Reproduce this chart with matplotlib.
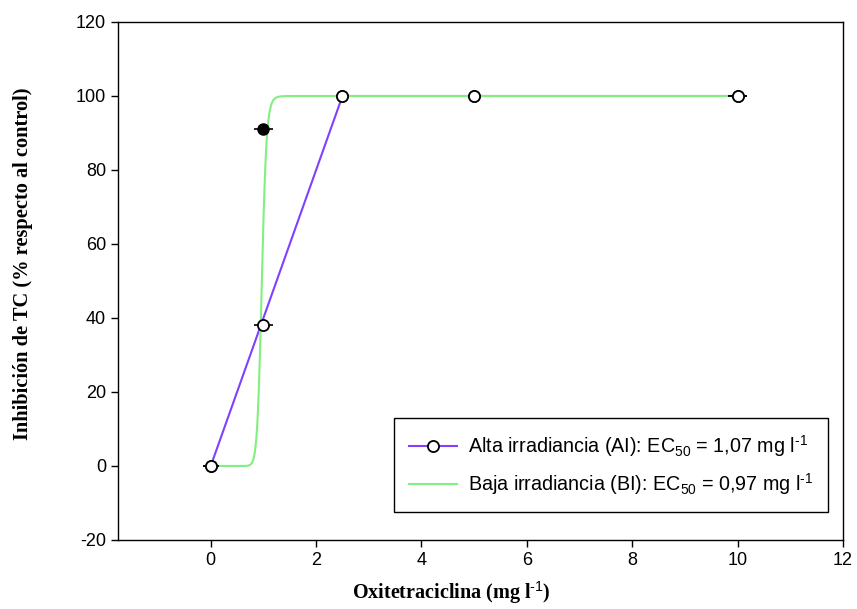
import numpy as np
import matplotlib
matplotlib.use("Agg")
import matplotlib.pyplot as plt
from matplotlib.lines import Line2D

plt.rcParams['mathtext.fontset'] = 'custom'
plt.rcParams['mathtext.rm'] = 'Liberation Sans'
plt.rcParams['mathtext.it'] = 'Liberation Sans:italic'
plt.rcParams['mathtext.bf'] = 'Liberation Serif:bold'
plt.rcParams['axes.unicode_minus'] = False

# Data
conc = [0, 1, 2.5, 5, 10]
alta = [0, 38, 100, 100, 100]
baja = [0, 91, 100, 100, 100]
x_err = [0.15, 0.18, 0.1, 0.1, 0.18]

# Fitted curves
alta_fit_x = [0, 2.5, 10]
alta_fit_y = [0, 100, 100]
baja_ec50 = 0.97
baja_hill = 22

xticks = [0, 2, 4, 6, 8, 10, 12]
yticks = [-20, 0, 20, 40, 60, 80, 100, 120]

purple = "#8040ff"
green = "#80f080"

fig = plt.figure(figsize=(8.57, 6.09), dpi=100)
ax = fig.add_axes([118/857, 1-540/609, (843-118)/857, (540-22)/609])

xs = np.linspace(0.001, 10, 2000)
baja_curve = 100/(1+(baja_ec50/xs)**baja_hill)

ax.plot(alta_fit_x, alta_fit_y, color=purple, lw=1.5, zorder=2)
ax.plot(xs, baja_curve, color=green, lw=1.5, zorder=3)

ax.errorbar(conc, baja, xerr=x_err, fmt='o', ms=8, mfc='black', mec='black',
            ecolor='black', elinewidth=1.2, capsize=0, zorder=4)
ax.errorbar(conc, alta, xerr=x_err, fmt='o', ms=8, mfc='white', mec='black',
            mew=1.3, ecolor='black', elinewidth=1.2, capsize=0, zorder=5)

h1 = Line2D([], [], color=purple, lw=1.5, marker='o', ms=8, mfc='white', mec='black', mew=1.3)
h2 = Line2D([], [], color=green, lw=1.5)
leg = ax.legend([h1, h2],
                [r"Alta irradiancia (AI): EC$_{50}$ = 1,07 mg l$^{\text{-1}}$",
                 r"Baja irradiancia (BI): EC$_{50}$ = 0,97 mg l$^{\text{-1}}$"],
                loc='lower right', bbox_to_anchor=(0.979, 0.054),
                borderaxespad=0,
                fancybox=False, edgecolor='black', framealpha=1,
                prop={'family': 'Liberation Sans', 'size': 14.2},
                borderpad=0.75, labelspacing=0.62, handlelength=2.4, handletextpad=0.56)
leg.get_frame().set_linewidth(1.0)

ax.set_xlim(-1.76, 12)
ax.set_ylim(-20, 120)
ax.set_xticks(xticks)
ax.set_yticks(yticks)
ax.tick_params(direction='out', length=5, width=1, labelsize=13)
for lab in ax.get_yticklabels() + ax.get_xticklabels():
    lab.set_family('Liberation Sans')
for s in ax.spines.values():
    s.set_linewidth(1)

ax.set_xlabel(r"Oxitetraciclina (mg l$^{\mathbf{\text{-1}}}$)", family='Liberation Serif',
              fontweight='bold', fontsize=14.5)
ax.xaxis.set_label_coords((451 - 118) / 725, -(593 - 540) / 518)
ax.set_ylabel("Inhibición de TC (% respecto al control)", family='Liberation Serif',
              fontweight='bold', fontsize=14.7)
ax.yaxis.set_label_coords((23 - 118) / 725, (540 - 264) / 518)
ax.yaxis.label.set_verticalalignment('center')
ax.xaxis.label.set_verticalalignment('center')

fig.savefig("out.png", dpi=100)
